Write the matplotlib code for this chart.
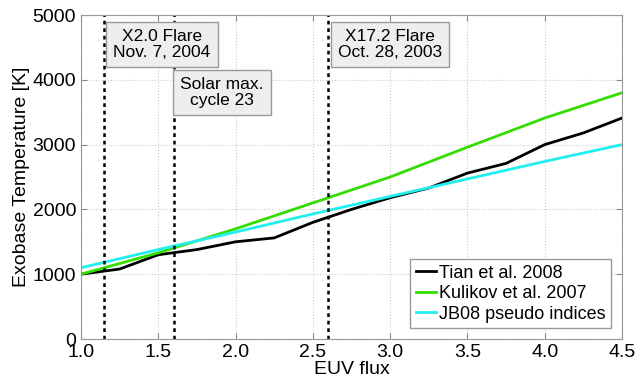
import numpy as np
import matplotlib.pyplot as plt

plt.rcParams['font.family'] = ['Liberation Sans', 'DejaVu Sans']

euv = [1.0, 1.25, 1.5, 1.75, 2.0, 2.25, 2.5, 2.75, 3.0, 3.25, 3.5, 3.75, 4.0, 4.25, 4.5]
tian = [1000, 1080, 1300, 1380, 1500, 1560, 1800, 2000, 2180, 2330, 2560, 2710, 3000, 3180, 3410]

euv2 = [1.0, 1.5, 2.0, 2.5, 3.0, 3.5, 4.0, 4.5]
kulikov = [1000, 1330, 1700, 2100, 2500, 2960, 3410, 3800]
jb08 = [1100, 1380, 1650, 1930, 2200, 2470, 2740, 3000]

events = [1.15, 1.6, 2.6]
labels = ["X2.0 Flare\nNov. 7, 2004", "Solar max.\ncycle 23", "X17.2 Flare\nOct. 28, 2003"]
label_pos = [(1.524, 4540), (1.912, 3800), (3.0, 4540)]

fig = plt.figure(figsize=(6.38, 3.82), dpi=100)
ax = fig.add_axes([81/638, 1-339/382, 541/638, 324/382])

ax.plot(euv, tian, color="black", lw=2, label="Tian et al. 2008")
ax.plot(euv2, kulikov, color="#33dd00", lw=2, label="Kulikov et al. 2007")
ax.plot(euv2, jb08, color="#22eeee", lw=2, label="JB08 pseudo indices")

for e in events:
    ax.axvline(e, color="black", lw=1.8, linestyle=(0, (1.5, 1.5)))

for t, (px, py) in zip(labels, label_pos):
    ax.text(px, py, t, ha="center", va="center", fontsize=12.5, linespacing=1.1,
            bbox=dict(boxstyle="square,pad=0.4", fc="#eeeeee", ec="#999999", lw=1))

ax.set_xlim(1.0, 4.5)
ax.set_ylim(0, 5000)
ax.set_xticks(np.arange(1.0, 4.51, 0.5))
ax.set_xticklabels([f"{v:.1f}" for v in np.arange(1.0, 4.51, 0.5)])
ax.set_yticks(np.arange(0, 5001, 1000))
ax.grid(True, linestyle=":", color="#cccccc", lw=0.8)
ax.tick_params(direction="in", labelsize=14, length=4, color="#888888", top=True, right=True)
for s in ax.spines.values():
    s.set_color("#999999")
ax.set_xlabel("EUV flux", fontsize=14, labelpad=0)
ax.set_ylabel("Exobase Temperature [K]", fontsize=14, labelpad=2)

leg = ax.legend(loc="lower right", fontsize=13, fancybox=False, framealpha=1,
                edgecolor="#999999", handlelength=1.1, handletextpad=0.2,
                borderpad=0.3, labelspacing=0.2, borderaxespad=0.6)
leg.get_frame().set_linewidth(1)

fig.savefig("out.png", dpi=100)
